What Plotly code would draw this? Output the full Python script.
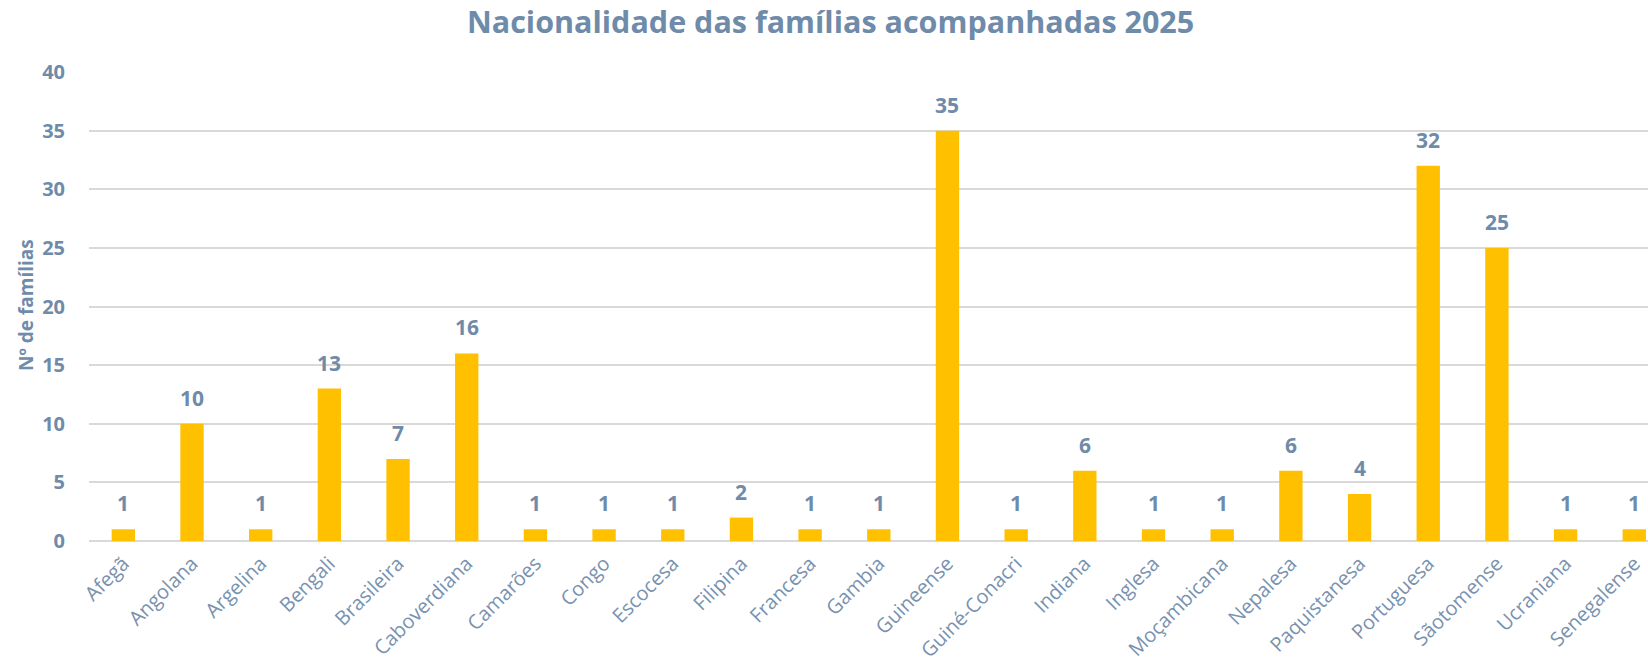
import plotly.graph_objects as go

# data
nacionalidades = ['Afegã', 'Angolana', 'Argelina', 'Bengali', 'Brasileira', 'Caboverdiana',
                  'Camarões', 'Congo', 'Escocesa', 'Filipina', 'Francesa', 'Gambia',
                  'Guineense', 'Guiné-Conacri', 'Indiana', 'Inglesa', 'Moçambicana',
                  'Nepalesa', 'Paquistanesa', 'Portuguesa', 'Sãotomense', 'Ucraniana',
                  'Senegalense']
familias = [1, 10, 1, 13, 7, 16, 1, 1, 1, 2, 1, 1, 35, 1, 6, 1, 1, 6, 4, 32, 25, 1, 1]
y_ticks = [0, 5, 10, 15, 20, 25, 30, 35, 40]

text_color = '#6F8BAA'
bar_color = '#FFC000'
grid_color = '#D9D9D9'
font_family = '"Open Sans", Arial, sans-serif'

# generate figure
fig = go.Figure()
fig.add_trace(go.Bar(
    x=nacionalidades,
    y=familias,
    marker_color=bar_color,
    marker_line_width=0,
    width=0.34
))

# value labels above bars
for cat, val in zip(nacionalidades, familias):
    fig.add_annotation(
        x=cat, y=val, text='<b>%d</b>' % val,
        showarrow=False, yanchor='bottom', yshift=10,
        font=dict(size=21, color=text_color, family=font_family)
    )

# y axis title
fig.add_annotation(
    xref='paper', yref='paper', x=-0.0405, y=0.503,
    xanchor='center', yanchor='middle',
    text='<b>Nº de famílias</b>', textangle=-90, showarrow=False,
    font=dict(size=19, color=text_color, family=font_family)
)

# update layout
fig.update_layout(
    width=1648, height=665,
    template='plotly_white',
    plot_bgcolor='white',
    paper_bgcolor='white',
    margin=dict(l=89, r=0, t=72, b=124),
    showlegend=False,
    font=dict(family=font_family, color=text_color),
    title=dict(
        text='<b>Nacionalidade das famílias acompanhadas 2025</b>',
        x=0.504, y=0.966, xanchor='center', yanchor='middle',
        font=dict(size=30.5, color=text_color, family=font_family)
    ),
    bargap=0.66
)

# update the axes
fig.update_xaxes(
    range=[-0.5, 22.2], tickangle=-45, showgrid=False,
    tickfont=dict(size=20, color='#7892B0'), automargin=False,
    showline=False, ticks='', ticklabelstandoff=6
)
fig.update_yaxes(
    range=[0, 40], tickvals=y_ticks, showgrid=True,
    gridcolor=grid_color, gridwidth=2, zeroline=True,
    zerolinecolor=grid_color, zerolinewidth=2,
    tickfont=dict(size=20, color=text_color, weight='bold'), automargin=False,
    ticklabelstandoff=23
)

fig.write_html('out.html', config={'displayModeBar': False},
               post_script="document.body.style.margin='0';")
